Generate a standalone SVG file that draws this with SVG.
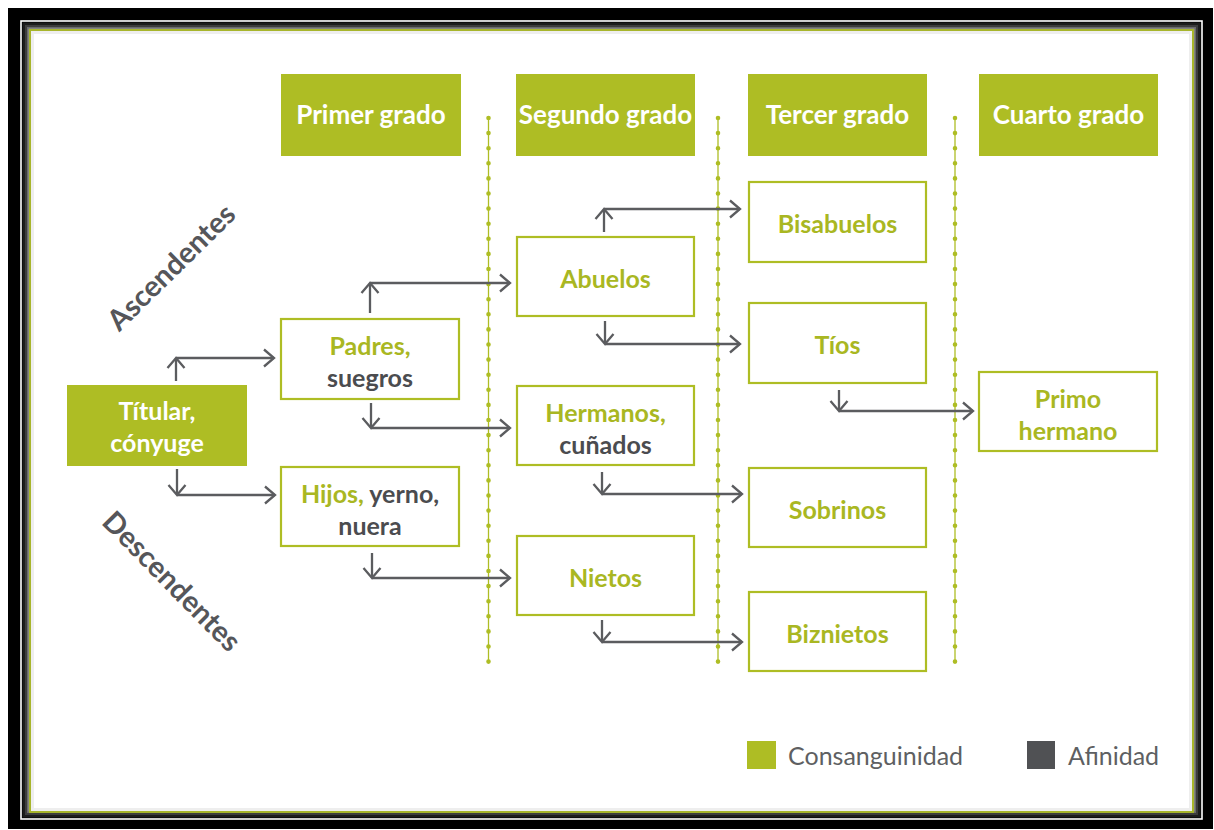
<svg xmlns="http://www.w3.org/2000/svg" width="1214" height="830" viewBox="0 0 1214 830">
<style>
  text { font-family: Lato, "Noto Sans", sans-serif; }
  .hdr rect { fill: #aebd24; }
  .hdr text { fill: #ffffff; font-size: 26px; font-weight: bold; text-anchor: middle; }
  .box rect { fill: #ffffff; stroke: #aebd24; stroke-width: 2.2; }
  .box text { font-size: 25px; font-weight: bold; text-anchor: middle; fill: #a9b722; }
  .box .dk { fill: #4b4c4f; }
  .solid rect { fill: #aebd24; stroke: none; }
  .solid text { fill: #ffffff; }
  .dots line.base { stroke: #aebd24; stroke-width: 1.3; }
  .dots line.dot { stroke: #aebd24; stroke-width: 4.6; stroke-linecap: round; stroke-dasharray: 0 15.1; }
  #connectors path { fill: none; stroke: #5b5c5f; stroke-width: 2.3; }
  .side { font-size: 29px; font-weight: bold; fill: #55565a; text-anchor: middle; }
  .legend { font-size: 25px; fill: #5e5f62; }
</style>
<defs>
  <marker id="chev" markerUnits="userSpaceOnUse" markerWidth="24" markerHeight="24" viewBox="-12 -12 24 24" refX="0" refY="0" orient="auto">
    <path d="M -10,-8.5 L 0,0 L -10,8.5" fill="none" stroke="#5b5c5f" stroke-width="2.3" stroke-linejoin="miter"/>
  </marker>
</defs>

<rect x="0" y="0" width="1214" height="830" fill="#ffffff"/>
<!-- frame -->
<g id="frame">
  <rect x="8" y="8" width="1205" height="821" fill="#000000"/>
  <rect x="21" y="21" width="1181" height="798" fill="none" stroke="#ffffff" stroke-width="1.6"/>
  <rect x="22.5" y="22.5" width="1178" height="795" fill="#1c1c1c"/>
  <rect x="25" y="25" width="1173" height="790" fill="#3c3c3c"/>
  <rect x="27" y="27" width="1169" height="786" fill="#6a6a6a"/>
  <rect x="28.5" y="28.5" width="1166" height="783" fill="#999999"/>
  <rect x="30" y="30" width="1163" height="782" fill="#ffffff" stroke="#a7b52b" stroke-width="2"/>
  <rect x="32.5" y="32.5" width="1158" height="777" fill="none" stroke="#eeeeee" stroke-width="3"/>
</g>

<!-- headers -->
<g id="h1" class="hdr"><rect x="281" y="74" width="180" height="82"/><text x="371" y="124">Primer grado</text></g>
<g id="h2" class="hdr"><rect x="516" y="74" width="179" height="82"/><text x="605.5" y="124">Segundo grado</text></g>
<g id="h3" class="hdr"><rect x="748" y="74" width="179" height="82"/><text x="837.5" y="124">Tercer grado</text></g>
<g id="h4" class="hdr"><rect x="979" y="74" width="179" height="82"/><text x="1068.5" y="124">Cuarto grado</text></g>

<!-- dotted separators -->
<g id="separators" class="dots">
  <line class="base" x1="488.5" y1="118" x2="488.5" y2="662"/>
  <line class="dot" x1="488.5" y1="118" x2="488.5" y2="664"/>
  <line class="base" x1="718" y1="118" x2="718" y2="662"/>
  <line class="dot" x1="718" y1="118" x2="718" y2="664"/>
  <line class="base" x1="955" y1="118" x2="955" y2="662"/>
  <line class="dot" x1="955" y1="118" x2="955" y2="664"/>
</g>

<!-- side labels -->
<text class="side" transform="translate(172,268) rotate(-44.5)" x="0" y="9">Ascendentes</text>
<text class="side" transform="translate(171,582) rotate(45.5)" x="0" y="9">Descendentes</text>

<!-- nodes -->
<g id="titular" class="box solid"><rect x="67" y="385" width="180" height="81"/><text x="157" y="420">Títular,</text><text x="157" y="452">cónyuge</text></g>
<g id="padres" class="box"><rect x="281" y="319" width="178" height="80"/><text x="370" y="355">Padres,</text><text class="dk" x="370" y="387">suegros</text></g>
<g id="hijos" class="box"><rect x="281" y="467" width="178" height="79"/><text x="370" y="503"><tspan>Hijos,</tspan><tspan class="dk"> yerno,</tspan></text><text class="dk" x="370" y="535">nuera</text></g>
<g id="abuelos" class="box"><rect x="517" y="237" width="177" height="79"/><text x="605.5" y="288">Abuelos</text></g>
<g id="hermanos" class="box"><rect x="517" y="386" width="177" height="79"/><text x="605.5" y="421.5">Hermanos,</text><text class="dk" x="605.5" y="453.5">cuñados</text></g>
<g id="nietos" class="box"><rect x="517" y="536" width="177" height="79"/><text x="605.5" y="587">Nietos</text></g>
<g id="bisabuelos" class="box"><rect x="749" y="182" width="177" height="80"/><text x="837.5" y="233">Bisabuelos</text></g>
<g id="tios" class="box"><rect x="749" y="303" width="177" height="80"/><text x="837.5" y="354">Tíos</text></g>
<g id="sobrinos" class="box"><rect x="749" y="468" width="177" height="79"/><text x="837.5" y="519">Sobrinos</text></g>
<g id="biznietos" class="box"><rect x="749" y="592" width="177" height="79"/><text x="837.5" y="643">Biznietos</text></g>
<g id="primo" class="box"><rect x="979" y="372" width="178" height="79"/><text x="1068" y="407.5">Primo</text><text x="1068" y="439.5">hermano</text></g>

<!-- connectors -->
<g id="connectors">
  <path d="M176,381 V358" marker-end="url(#chev)"/>
  <path d="M176,358 H274" marker-end="url(#chev)"/>
  <path d="M177,469 V495" marker-end="url(#chev)"/>
  <path d="M177,495 H275" marker-end="url(#chev)"/>
  <path d="M370,313 V283" marker-end="url(#chev)"/>
  <path d="M370,283 H510" marker-end="url(#chev)"/>
  <path d="M371,403 V428" marker-end="url(#chev)"/>
  <path d="M371,428 H510" marker-end="url(#chev)"/>
  <path d="M372,553 V578" marker-end="url(#chev)"/>
  <path d="M372,578 H510" marker-end="url(#chev)"/>
  <path d="M604,232 V209" marker-end="url(#chev)"/>
  <path d="M604,209 H740" marker-end="url(#chev)"/>
  <path d="M605,321 V344" marker-end="url(#chev)"/>
  <path d="M605,344 H740" marker-end="url(#chev)"/>
  <path d="M839,390 V411" marker-end="url(#chev)"/>
  <path d="M839,411 H973" marker-end="url(#chev)"/>
  <path d="M602,472 V494" marker-end="url(#chev)"/>
  <path d="M602,494 H742" marker-end="url(#chev)"/>
  <path d="M602,620 V642" marker-end="url(#chev)"/>
  <path d="M602,642 H742" marker-end="url(#chev)"/>
</g>

<!-- legend -->
<g id="legend">
  <rect x="747" y="741" width="29" height="28" fill="#aebd24"/>
  <text class="legend" x="788" y="765">Consanguinidad</text>
  <rect x="1027" y="741" width="28" height="28" fill="#505154"/>
  <text class="legend" x="1068" y="765">Afinidad</text>
</g>
</svg>
